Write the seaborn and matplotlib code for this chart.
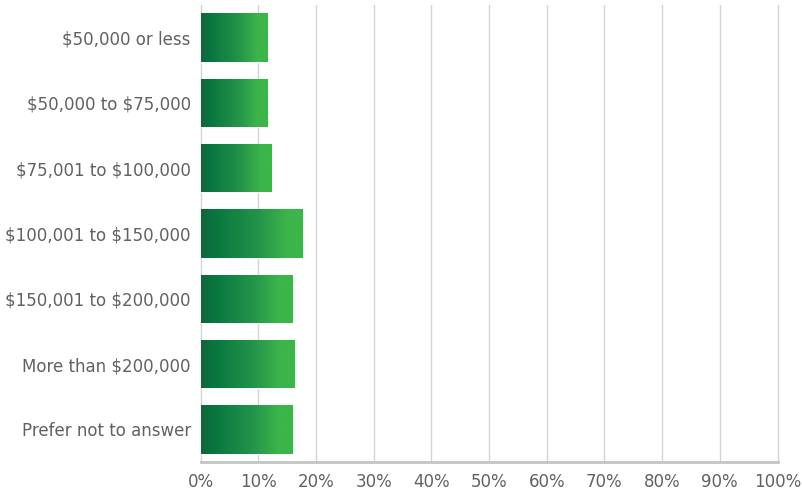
import numpy as np
import pandas as pd
import matplotlib
matplotlib.use("Agg")
import matplotlib.pyplot as plt
from matplotlib.colors import LinearSegmentedColormap
import seaborn as sns

categories = [
    "$50,000 or less",
    "$50,000 to $75,000",
    "$75,001 to $100,000",
    "$100,001 to $150,000",
    "$150,001 to $200,000",
    "More than $200,000",
    "Prefer not to answer",
]
shares = [11.5, 11.5, 12.2, 17.6, 15.9, 16.2, 15.9]
x_ticks = [0, 10, 20, 30, 40, 50, 60, 70, 80, 90, 100]

df = pd.DataFrame({"income": categories, "share": shares})

sns.set_theme(style="white")
plt.rcParams["font.family"] = ["DejaVu Sans"]
plt.rcParams["text.parse_math"] = False

fig = plt.figure(figsize=(8.02, 4.94), dpi=100)
ax = fig.add_axes([200.5 / 802, 32 / 494, 577 / 802, 457 / 494])

sns.barplot(data=df, x="share", y="income", orient="h", width=0.74,
            color="#3cb54a", ax=ax, zorder=3)

ax.set_xlim(0, 100)
ax.set_xticks(x_ticks)
ax.set_xticklabels([f"{t}%" for t in x_ticks])
ax.set_xlabel("")
ax.set_ylabel("")

# vertical gridlines
ax.grid(axis="x", color="#d4d4d4", linewidth=1.0, zorder=0)
ax.grid(axis="y", visible=False)
ax.set_axisbelow(True)
for gl in ax.get_xgridlines():
    gl.set_clip_on(False)

for side in ["top", "right", "left"]:
    ax.spines[side].set_visible(False)
ax.spines["bottom"].set_color("#c4c4c4")
ax.spines["bottom"].set_linewidth(2)

ax.tick_params(axis="both", length=0, labelsize=12, colors="#616161", pad=7)
ax.tick_params(axis="x", pad=8)

# horizontal dark-to-light green gradient inside every bar
cmap = LinearSegmentedColormap.from_list(
    "green_grad",
    [(0.0, "#11663a"), (0.15, "#08773f"), (0.55, "#23924a"), (0.85, "#3cb54a"), (1.0, "#3cb54a")],
)
grad = np.linspace(0, 1, 256).reshape(1, -1)
for patch in ax.patches:
    x0, y0 = patch.get_x(), patch.get_y()
    w, h = patch.get_width(), patch.get_height()
    im = ax.imshow(grad, cmap=cmap, aspect="auto", extent=(x0, x0 + w, y0 + h, y0),
                   zorder=4, interpolation="bicubic")
    im.set_clip_path(patch)

ax.set_xlim(0, 100)
ax.set_ylim(len(categories) - 0.5, -0.5)

fig.savefig("out.png", dpi=100)
